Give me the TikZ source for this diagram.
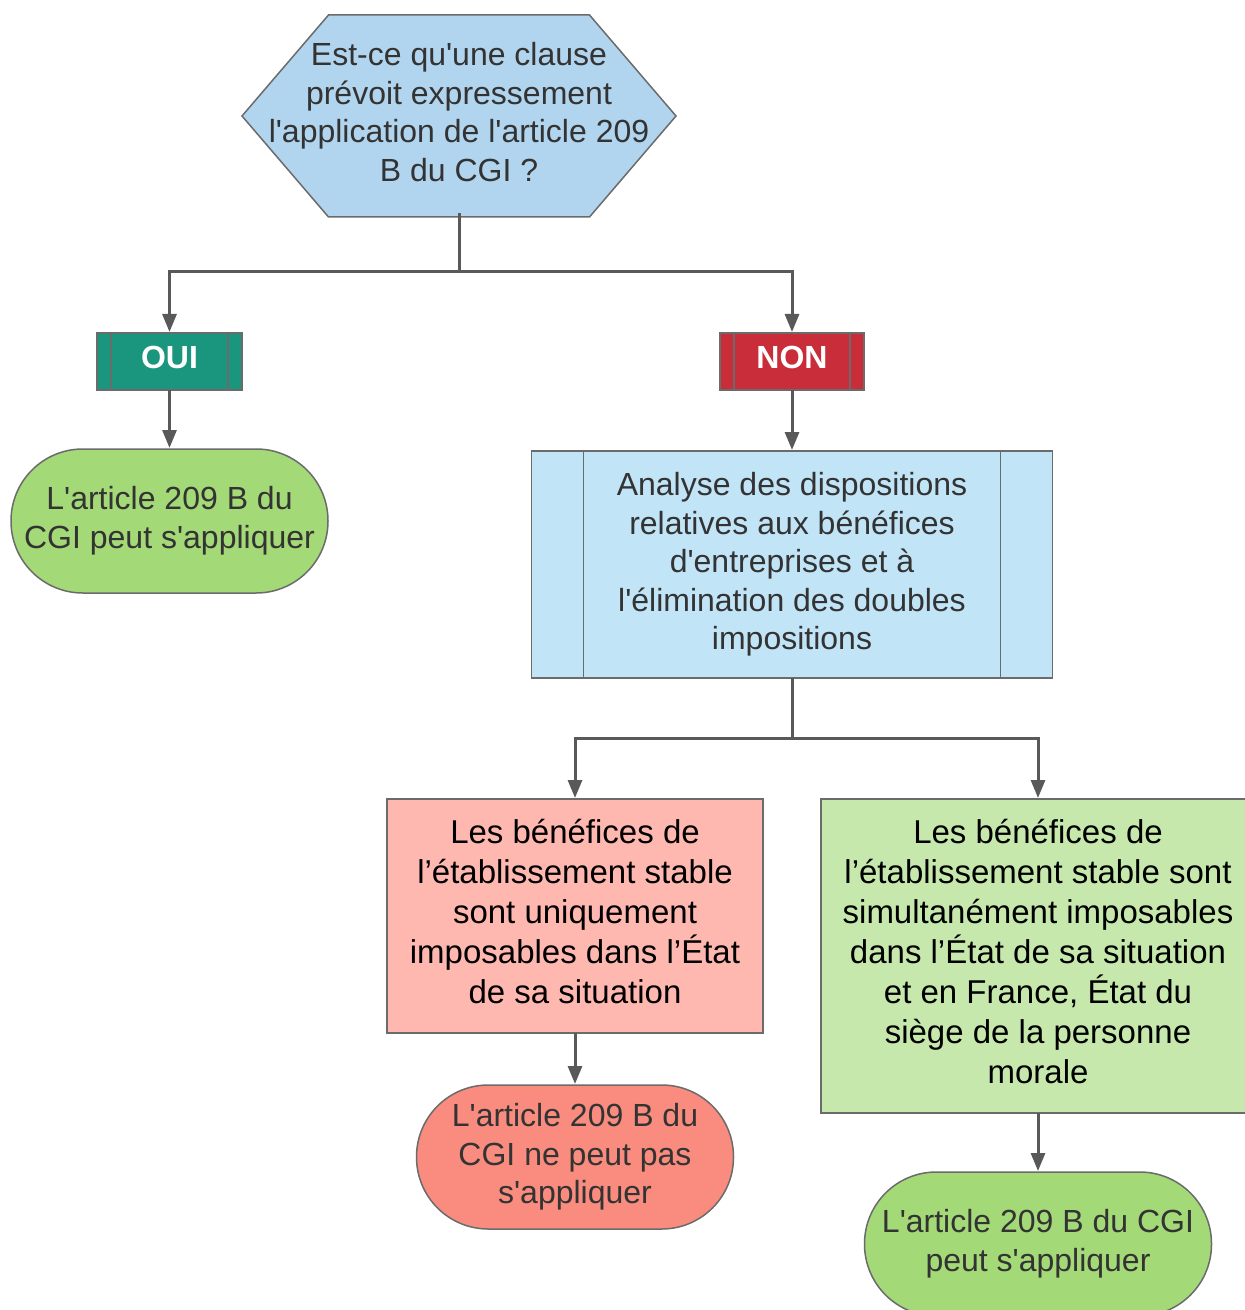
\documentclass[tikz,border=0pt]{standalone}
\usepackage{fontspec}
\setmainfont{Liberation Sans}[Ligatures=TeXOff]
\usepackage[dvipsnames]{xcolor}
\usetikzlibrary{arrows.meta,positioning,backgrounds}

\definecolor{txt}{HTML}{333333}
\definecolor{ln}{HTML}{595959}
\definecolor{bord}{HTML}{6B6B6B}
\definecolor{hexblue}{HTML}{B1D5EE}
\definecolor{procblue}{HTML}{C1E4F7}
\definecolor{ouigreen}{HTML}{19967D}
\definecolor{nonred}{HTML}{C92D39}
\definecolor{termgreen}{HTML}{A3D977}
\definecolor{termred}{HTML}{F98C7E}
\definecolor{boxpink}{HTML}{FFB8B0}
\definecolor{boxgreen}{HTML}{C7E8AC}

\begin{document}
\begin{tikzpicture}[x=0.5pt,y=-0.5pt,>={Triangle[width=7pt,length=9pt]},shorten >=0.5pt,
    main node/.style={draw=bord,line width=0.75pt,text=txt,align=center,inner sep=0pt,outer sep=0pt,font=\fontsize{16}{19.3}\selectfont},
    hexa node/.style={main node,draw=none,rectangle,minimum width=217pt,minimum height=101pt},
    flag node/.style={main node,rectangle,text=white,font=\bfseries\fontsize{16}{19}\selectfont,text depth=4pt,minimum width=72.5pt,minimum height=28.5pt},
    proc node/.style={main node,rectangle,text=black,font=\fontsize{16.5}{20}\selectfont},
    term node/.style={main node,rectangle,rounded corners=35.9pt,minimum width=158.5pt,minimum height=72pt},
    bar/.style={draw=bord,line width=0.75pt},
    link/.style={->,draw=ln,line width=1.5pt}]
    \useasboundingbox (0,0) rectangle (1244,1310);

    % question
    \node[hexa node] (0) at (459,112) {Est-ce qu'une clause\\prévoit expressement\\l'application de l'article 209\\B du CGI ?};
    \begin{scope}[on background layer]
        \draw[bar, fill=hexblue] ([xshift=43.25pt,yshift=-2pt]0.north west) -- ([xshift=-43.25pt,yshift=-2pt]0.north east)
            -- ([yshift=-2pt]0.east) -- ([xshift=-43.25pt,yshift=-2pt]0.south east)
            -- ([xshift=43.25pt,yshift=-2pt]0.south west) -- ([yshift=-2pt]0.west) -- cycle;
    \end{scope}

    % answers
    \node[flag node, fill=ouigreen] (1) at (169.5,361.5) {OUI};
    \node[flag node, fill=nonred, minimum width=72pt] (2) at (792,361.5) {NON};

    \node[term node, fill=termgreen] (3) [below=29.5pt of 1] {L'article 209 B du\\CGI peut s'appliquer};
    \node[proc node, fill=procblue, text=txt, font=\fontsize{16}{19.3}\selectfont, minimum width=260.5pt, minimum height=113.5pt] (4) [below=30.5pt of 2]
        {Analyse des dispositions\\relatives aux bénéfices\\d'entreprises et à\\l'élimination des doubles\\impositions};

    % cas de l'etablissement stable
    \node[proc node, fill=boxpink, text depth=5pt, minimum width=188pt, minimum height=117pt] (5) at (575,916)
        {Les bénéfices de\\l’établissement stable\\sont uniquement\\imposables dans l’État\\de sa situation};
    \node[proc node, fill=boxgreen, text depth=5pt, minimum width=217pt, minimum height=157pt] (6) at (1038,956)
        {Les bénéfices de\\l’établissement stable sont\\simultanément imposables\\dans l’État de sa situation\\et en France, État du\\siège de la personne\\morale};

    \node[term node, fill=termred] (7) [below=26pt of 5] {L'article 209 B du\\CGI ne peut pas\\s'appliquer};
    \node[term node, fill=termgreen, minimum width=173.5pt] (8) [below=29.5pt of 6] {L'article 209 B du CGI\\peut s'appliquer};

    % side bars
    \draw[bar] ([xshift=7pt]1.north west) -- ([xshift=7pt]1.south west);
    \draw[bar] ([xshift=-7pt]1.north east) -- ([xshift=-7pt]1.south east);
    \draw[bar] ([xshift=7pt]2.north west) -- ([xshift=7pt]2.south west);
    \draw[bar] ([xshift=-7pt]2.north east) -- ([xshift=-7pt]2.south east);
    \draw[bar] ([xshift=26pt]4.north west) -- ([xshift=26pt]4.south west);
    \draw[bar] ([xshift=-26pt]4.north east) -- ([xshift=-26pt]4.south east);

    \coordinate (a) at (459,272);
    \coordinate (b) at (792,738);

    \draw[link] (0.south) -- (a) -| (1.north);
    \draw[link] (a) -| (2.north);
    \draw[link] (1) -- (3);
    \draw[link] (2) -- (4);
    \draw[link] (4.south) -- (b) -| (5.north);
    \draw[link] (b) -| (6.north);
    \draw[link] (5) -- (7);
    \draw[link] (6) -- (8);
\end{tikzpicture}
\end{document}
